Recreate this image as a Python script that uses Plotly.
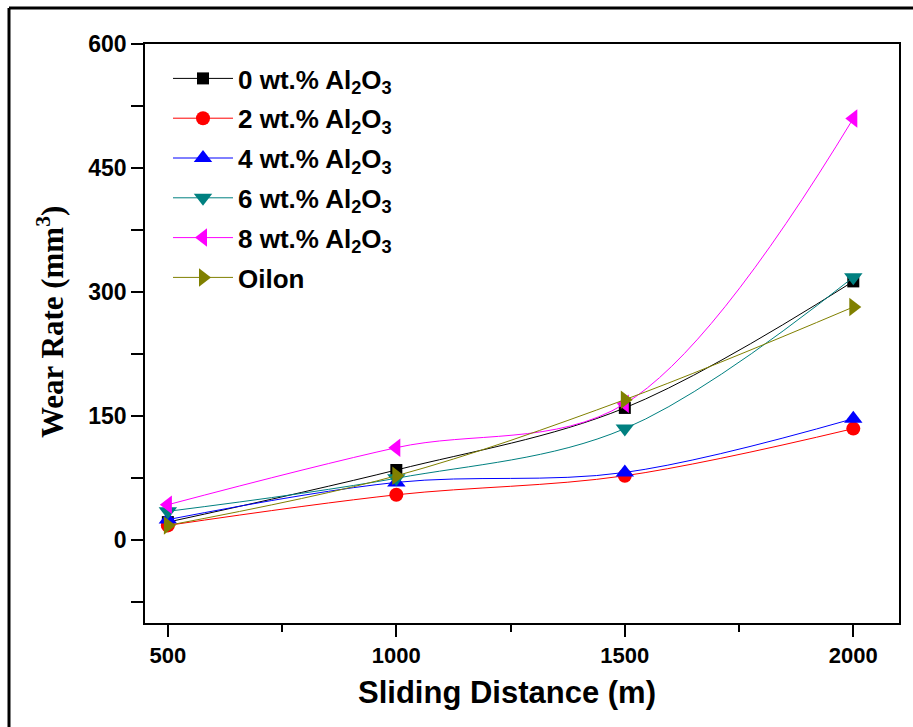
import plotly.graph_objects as go

distance = [500, 1000, 1500, 2000]
wt0 = [22, 85, 160, 313]
wt2 = [18, 55, 78, 135]
wt4 = [25, 70, 82, 147]
wt6 = [35, 75, 135, 318]
wt8 = [43, 112, 165, 510]
oilon = [18, 78, 170, 282]

series_names = ["0 wt.% Al<sub>2</sub>O<sub>3</sub>", "2 wt.% Al<sub>2</sub>O<sub>3</sub>",
                "4 wt.% Al<sub>2</sub>O<sub>3</sub>", "6 wt.% Al<sub>2</sub>O<sub>3</sub>",
                "8 wt.% Al<sub>2</sub>O<sub>3</sub>", "Oilon"]
series_values = [wt0, wt2, wt4, wt6, wt8, oilon]
colors = ["#000000", "#FF0000", "#0000FF", "#008080", "#FF00FF", "#808000"]
symbols = ["square", "circle", "triangle-up", "triangle-down", "triangle-left", "triangle-right"]
sizes = [12, 14, 16, 16, 16, 16]

fig = go.Figure()
for i, (name, vals) in enumerate(zip(series_names, series_values)):
    fig.add_trace(go.Scatter(
        x=distance, y=vals, name=name, mode="lines+markers",
        line=dict(color=colors[i], width=1, shape="spline", smoothing=1),
        marker=dict(symbol=symbols[i], size=sizes[i], color=colors[i], line=dict(width=0)),
        legendgroup=f"g{i}",
    ))

W, H = 913, 727
L, R, T, B = 145, 899, 44, 623
pw, ph = R - L, B - T

def px(xp):
    return (xp - L) / pw

def py(yp):
    return (B - yp) / ph

fig.update_layout(
    width=W, height=H,
    margin=dict(l=L, r=W - R, t=T, b=H - B),
    paper_bgcolor="white", plot_bgcolor="white",
    font=dict(family="Liberation Sans, Arial", color="black"),
    showlegend=True,
    legend=dict(x=px(168), y=py(55), xanchor="left", yanchor="top",
                bgcolor="rgba(0,0,0,0)", borderwidth=0,
                font=dict(size=26, family="Liberation Sans, Arial", color="black", weight="bold"),
                tracegroupgap=3, itemwidth=60),
    xaxis=dict(
        range=[450, 2100], tick0=500, dtick=500,
        ticks="outside", ticklen=12, tickwidth=1.5, tickcolor="black",
        showline=True, linecolor="black", linewidth=1.5, mirror=True,
        showgrid=False, zeroline=False,
        tickfont=dict(size=22, family="Liberation Sans, Arial", weight="bold"),
        minor=dict(dtick=250, ticks="outside", ticklen=7, tickwidth=1.5, tickcolor="black", showgrid=False),
    ),
    yaxis=dict(
        range=[-100, 600], tick0=0, dtick=150,
        ticks="outside", ticklen=12, tickwidth=1.5, tickcolor="black",
        showline=True, linecolor="black", linewidth=1.5, mirror=True,
        showgrid=False, zeroline=False,
        tickfont=dict(size=23, family="Liberation Sans, Arial", weight="bold"),
        minor=dict(dtick=75, ticks="outside", ticklen=12, tickwidth=1.5, tickcolor="black", showgrid=False),
    ),
    annotations=[
        dict(text="Sliding Distance (m)", xref="paper", yref="paper", x=px(507), y=py(692),
             xanchor="center", yanchor="middle", showarrow=False,
             font=dict(size=31, family="Liberation Sans, Arial", weight="bold", color="black")),
        dict(text="Wear Rate (mm<sup>3</sup>)", xref="paper", yref="paper", x=px(50), y=py(322),
             xanchor="center", yanchor="middle", showarrow=False, textangle=-90,
             font=dict(size=31, family="Liberation Serif, Times New Roman", weight="bold", color="black")),
    ],
    shapes=[
        dict(type="line", xref="paper", yref="paper", x0=px(9), x1=px(913), y0=py(8), y1=py(8),
             line=dict(color="black", width=3)),
        dict(type="line", xref="paper", yref="paper", x0=px(9), x1=px(9), y0=py(8), y1=py(727),
             line=dict(color="black", width=3)),
    ],
)

fig.write_html("out.html")
